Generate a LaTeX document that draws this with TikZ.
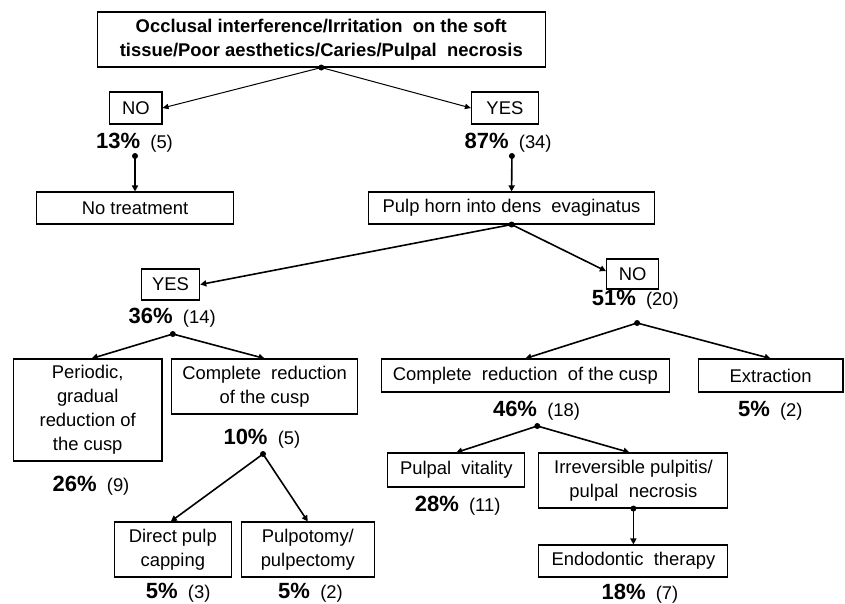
\documentclass[tikz,border=0pt]{standalone}
\usepackage{fontspec}
\setmainfont{Liberation Sans}
\usetikzlibrary{arrows.meta}
\begin{document}
\begin{tikzpicture}[x=0.75pt,y=-0.75pt,
  txt/.style={font=\fontsize{13.8}{18}\selectfont, align=center, inner sep=0pt},
  box/.style={txt, draw, line width=0.8pt},
  pct/.style={txt, anchor=center},
  dot/.style={circle, fill, inner sep=0pt, minimum size=4.5pt},
  thin arrow/.style={line width=0.75pt, -{Triangle[length=4.5pt,width=4pt]}},
  arr/.style={line width=1.2pt, -{Triangle[length=4.5pt,width=4.5pt]}}
]
\newcommand{\pc}[2]{{\fontsize{16.5}{18}\selectfont\bfseries #1\%}\ \ (#2)}
\useasboundingbox (0,0) rectangle (845,603);
% boxes
\node[box, minimum width=336.2pt, minimum height=41.25pt, font=\fontsize{13.8}{18}\selectfont\bfseries] (top) at (321.3,39.5)
  {Occlusal interference/Irritation\ \ on the soft\\tissue/Poor aesthetics/Caries/Pulpal\ \ necrosis};
\node[box, minimum width=39.3pt, minimum height=24pt] (no1) at (135.8,108) {NO};
\node[box, minimum width=50.2pt, minimum height=24pt] (yes1) at (504.9,108) {YES};
\node[pct] (p13) at (134.5,143) {\pc{13}{5}};
\node[pct] (p87) at (508.1,143) {\pc{87}{34}};
\node[box, minimum width=147.4pt, minimum height=24pt] (notreat) at (135,208) {No treatment};
\node[box, minimum width=214.2pt, minimum height=24pt] (horn) at (511.6,208) {Pulp horn into dens\ \ evaginatus};
\node[box, minimum width=43.7pt, minimum height=23.25pt] (yes2) at (170.6,284.5) {YES};
\node[box, minimum width=39.2pt, minimum height=22.5pt] (no2) at (632.6,274) {NO};
\node[pct] (p36) at (172.2,318) {\pc{36}{14}};
\node[pct] (p51) at (635.3,300) {\pc{51}{20}};
\node[box, minimum width=111.4pt, minimum height=76.5pt] (periodic) at (87.7,410) {Periodic,\\gradual\\reduction of\\the cusp};
\node[box, minimum width=139.3pt, minimum height=41.25pt] (compl) at (264.6,386.5) {Complete\ \ reduction\\of the cusp};
\node[box, minimum width=216.2pt, minimum height=24.75pt] (compr) at (525.4,375.5) {Complete\ \ reduction\ \ of the cusp};
\node[box, minimum width=108.6pt, minimum height=24.75pt] (extr) at (770.6,375.5) {Extraction};
\node[pct] (p26) at (91,486) {\pc{26}{9}};
\node[pct] (p10) at (261.9,439) {\pc{10}{5}};
\node[pct] (p46) at (536.5,411) {\pc{46}{18}};
\node[pct] (p5r) at (770.3,411) {\pc{5}{2}};
\node[box, minimum width=87.5pt, minimum height=41.25pt] (direct) at (172.8,549.5) {Direct pulp\\capping};
\node[box, minimum width=99.6pt, minimum height=41.25pt] (pulpot) at (307.8,549.5) {Pulpotomy/\\pulpectomy};
\node[pct] (p5a) at (178.2,593) {\pc{5}{3}};
\node[pct] (p5b) at (310.5,593) {\pc{5}{2}};
\node[box, minimum width=102.8pt, minimum height=25.5pt] (vital) at (456.3,470) {Pulpal\ \ vitality};
\node[box, minimum width=141.7pt, minimum height=41.25pt] (irrev) at (633.4,480.5) {Irreversible pulpitis/\\pulpal\ \ necrosis};
\node[box, minimum width=141.7pt, minimum height=24pt] (endo) at (633.4,561) {Endodontic\ \ therapy};
\node[pct] (p28) at (457.6,506) {\pc{28}{11}};
\node[pct] (p18) at (639.9,593.5) {\pc{18}{7}};
% dots
\node[dot] (d0) at (top.south) {};
\node[dot] (d13) at (135,156) {};
\node[dot] (d87) at (511.9,156) {};
\node[dot] (dh) at (horn.south) {};
\node[dot] (d36) at (172.8,334) {};
\node[dot] (d51) at (637.1,323) {};
\node[dot] (d10) at (263,454) {};
\node[dot] (d46) at (537.3,426) {};
\node[dot] (di) at (irrev.south) {};
% connectors
\draw[thin arrow] (d0.center) -- (no1.east);
\draw[thin arrow] (d0.center) -- (yes1.west);
\draw[arr] (d13.center) -- (notreat.north);
\draw[arr] (d87.center) -- (horn.north);
\draw[arr] (dh.center) -- (yes2.east);
\draw[arr] (dh.center) -- ([yshift=2.2pt]no2.west);
\draw[arr] (d36.center) -- ([xshift=3pt]periodic.north);
\draw[arr] (d36.center) -- (compl.north);
\draw[arr] (d51.center) -- (compr.north);
\draw[arr] (d51.center) -- (extr.north);
\draw[arr] (d10.center) -- ([xshift=-1.5pt]direct.north);
\draw[arr] (d10.center) -- (pulpot.north);
\draw[arr] (d46.center) -- (vital.north);
\draw[arr] (d46.center) -- ([xshift=-3pt]irrev.north);
\draw[arr] (di.center) -- (endo.north);
\end{tikzpicture}
\end{document}
